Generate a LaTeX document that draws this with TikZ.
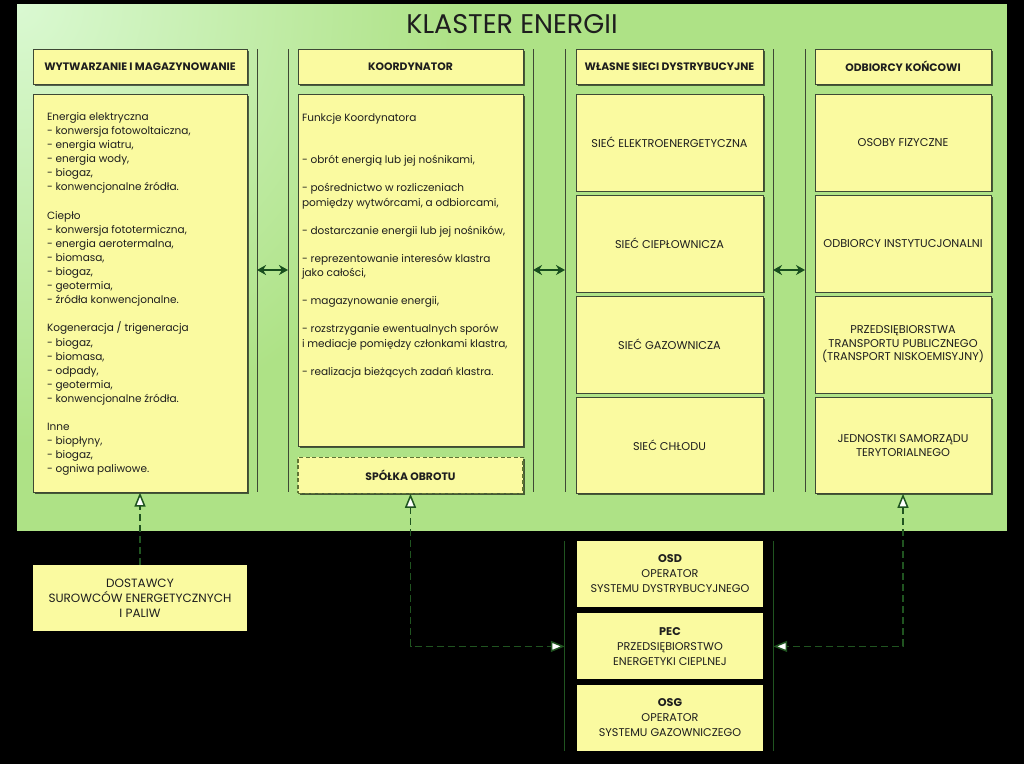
\documentclass[tikz,border=0pt]{standalone}
\usepackage{fontspec}
\setmainfont{Poppins}
\usepackage{xcolor}
\usetikzlibrary{arrows.meta,positioning,shadows}

\definecolor{zolty}{RGB}{250,250,160}
\definecolor{zielen}{RGB}{174,226,134}
\definecolor{zielenjasna}{RGB}{218,249,210}
\definecolor{ciemnazielen}{RGB}{24,78,30}
\definecolor{liniazielona}{RGB}{32,84,32}
\definecolor{oliwka}{RGB}{96,116,52}
\definecolor{ramka}{RGB}{62,72,52}
\definecolor{napis}{RGB}{30,30,30}

\begin{document}
\begin{tikzpicture}[x=1pt,y=-1pt,>={Stealth[]},
  cien/.style={drop shadow={shadow xshift=1.5pt,shadow yshift=-1.5pt,opacity=.6,fill=black}},
  naglowek/.style={draw=ramka,fill=zolty,minimum height=35pt,inner sep=1pt,text=napis,font=\bfseries\fontsize{10.8}{12}\selectfont,cien},
  pole/.style={draw=ramka,fill=zolty,align=center,inner sep=2pt,text=napis,font=\fontsize{11.3}{13.6}\selectfont,cien},
  tekst/.style={align=left,inner sep=0pt,anchor=north west,text=napis,font=\fontsize{10.5}{14.1}\selectfont},
  operator/.style={fill=zolty,align=center,minimum width=186pt,minimum height=66pt,inner sep=1pt,text=napis,font=\fontsize{11.2}{15}\selectfont},
  rozdzial/.style={draw=ramka,line width=.8pt},
  szyna/.style={draw=liniazielona,line width=.8pt},
  dwustronna/.style={{Stealth[length=9pt,width=10pt]}-{Stealth[length=9pt,width=10pt]},line width=2pt,draw=ciemnazielen},
  zasilanie/.style={draw=liniazielona,line width=1.5pt,dash pattern=on 7pt off 4pt},
  grot/.tip={Triangle[fill=white,length=14pt,width=11pt]}]

\useasboundingbox[fill=black] (0,0) rectangle (1024,764);

% tlo klastra
\fill[zielen] (17,4) rectangle (1007,531);
\begin{scope}
  \clip (17,4) rectangle (1007,531);
  \shade[inner color=zielenjasna,outer color=zielen] (17,4) circle (440);
\end{scope}
\node[text=napis,font=\fontsize{27}{30}\selectfont] (tytul) at (512,24) {KLASTER ENERGII};

% naglowki kolumn
\node[naglowek,minimum width=214pt] (wytw) at (140,66.5) {WYTWARZANIE I MAGAZYNOWANIE};
\node[naglowek,minimum width=225pt] (koord) at (410.5,66.5) {KOORDYNATOR};
\node[naglowek,minimum width=187pt] (sieci) at (669.5,66.5) {WŁASNE SIECI DYSTRYBUCYJNE};
\node[naglowek,minimum width=176pt] (odbiorcy) at (903,66.5) {ODBIORCY KOŃCOWI};

% wytwarzanie
\node[pole,minimum width=214pt,minimum height=398pt,below=10pt of wytw] (zrodla) {};
\node[tekst] (zrodla-opis) at ([xshift=14pt,yshift=-18pt]zrodla.north west)
  {Energia elektryczna\\- konwersja fotowoltaiczna,\\- energia wiatru,\\- energia wody,\\- biogaz,\\- konwencjonalne źródła.\\[14.1pt]
   Ciepło\\- konwersja fototermiczna,\\- energia aerotermalna,\\- biomasa,\\- biogaz,\\- geotermia,\\- źródła konwencjonalne.\\[14.1pt]
   Kogeneracja / trigeneracja\\- biogaz,\\- biomasa,\\- odpady,\\- geotermia,\\- konwencjonalne źródła.\\[14.1pt]
   Inne\\- biopłyny,\\- biogaz,\\- ogniwa paliwowe.};

% koordynator
\node[pole,minimum width=225pt,minimum height=352pt,below=10pt of koord] (funkcje) {};
\node[tekst] (funkcje-opis) at ([xshift=4pt,yshift=-19pt]funkcje.north west)
  {Funkcje Koordynatora\\[28.2pt]
   - obrót energią lub jej nośnikami,\\[14.1pt]
   - pośrednictwo w rozliczeniach\\pomiędzy wytwórcami, a odbiorcami,\\[14.1pt]
   - dostarczanie energii lub jej nośników,\\[14.1pt]
   - reprezentowanie interesów klastra\\jako całości,\\[14.1pt]
   - magazynowanie energii,\\[14.1pt]
   - rozstrzyganie ewentualnych sporów\\i mediacje pomiędzy członkami klastra,\\[14.1pt]
   - realizacja bieżących zadań klastra.};
\node[naglowek,minimum width=225pt,minimum height=36pt,draw=oliwka,line width=1.2pt,dash pattern=on 4pt off 2.5pt,below=10pt of funkcje] (spolka) {SPÓŁKA OBROTU};

% sieci dystrybucyjne
\node[pole,minimum width=187pt,minimum height=96.5pt,below=10pt of sieci] (elektro) {SIEĆ ELEKTROENERGETYCZNA};
\node[pole,minimum width=187pt,minimum height=96.5pt,below=4pt of elektro] (cieplo) {SIEĆ CIEPŁOWNICZA};
\node[pole,minimum width=187pt,minimum height=96.5pt,below=4pt of cieplo] (gaz) {SIEĆ GAZOWNICZA};
\node[pole,minimum width=187pt,minimum height=96.5pt,below=4pt of gaz] (chlod) {SIEĆ CHŁODU};

% odbiorcy
\node[pole,minimum width=176pt,minimum height=96.5pt,below=10pt of odbiorcy] (osoby) {OSOBY FIZYCZNE};
\node[pole,minimum width=176pt,minimum height=96.5pt,below=4pt of osoby] (instytucje) {ODBIORCY INSTYTUCJONALNI};
\node[pole,minimum width=176pt,minimum height=96.5pt,below=4pt of instytucje] (transport) {PRZEDSIĘBIORSTWA\\TRANSPORTU PUBLICZNEGO\\(TRANSPORT NISKOEMISYJNY)};
\node[pole,minimum width=176pt,minimum height=96.5pt,below=4pt of transport] (jst) {JEDNOSTKI SAMORZĄDU\\TERYTORIALNEGO};

% linie rozdzielajace i strzalki
\foreach \i/\xa/\xb in {1/257/288,2/533/565,3/773/805}{
  \draw[rozdzial] (\xa,49) -- (\xa,492);
  \draw[rozdzial] (\xb,49) -- (\xb,492);
  \coordinate (lewa\i) at (\xa,270);
  \coordinate (prawa\i) at (\xb,270);
  \draw[dwustronna] (lewa\i) -- (prawa\i);
}

% poza klastrem
\node[operator,minimum width=214pt,font=\fontsize{12}{15}\selectfont] (dostawcy) at (140,598) {DOSTAWCY\\SUROWCÓW ENERGETYCZNYCH\\I PALIW};
\node[operator] (osd) at (670,574) {\textbf{OSD}\\OPERATOR\\SYSTEMU DYSTRYBUCYJNEGO};
\node[operator,below=6pt of osd] (pec) {\textbf{PEC}\\PRZEDSIĘBIORSTWO\\ENERGETYKI CIEPLNEJ};
\node[operator,below=5pt of pec] (osg) {\textbf{OSG}\\OPERATOR\\SYSTEMU GAZOWNICZEGO};
\draw[szyna] ([xshift=-12pt]osd.north west) -- ([xshift=-12pt]osg.south west);
\draw[szyna] ([xshift=10pt]osd.north east) -- ([xshift=10pt]osg.south east);
\coordinate (pec-lewa) at ([xshift=-12pt]pec.west);
\coordinate (pec-prawa) at ([xshift=10pt]pec.east);

% powiazania
\draw[zasilanie,-grot] (dostawcy.north) -- (zrodla.south);
\draw[zasilanie,grot-grot] (spolka.south) |- (pec-lewa);
\draw[zasilanie,grot-grot] (jst.south) |- (pec-prawa);
\end{tikzpicture}
\end{document}
